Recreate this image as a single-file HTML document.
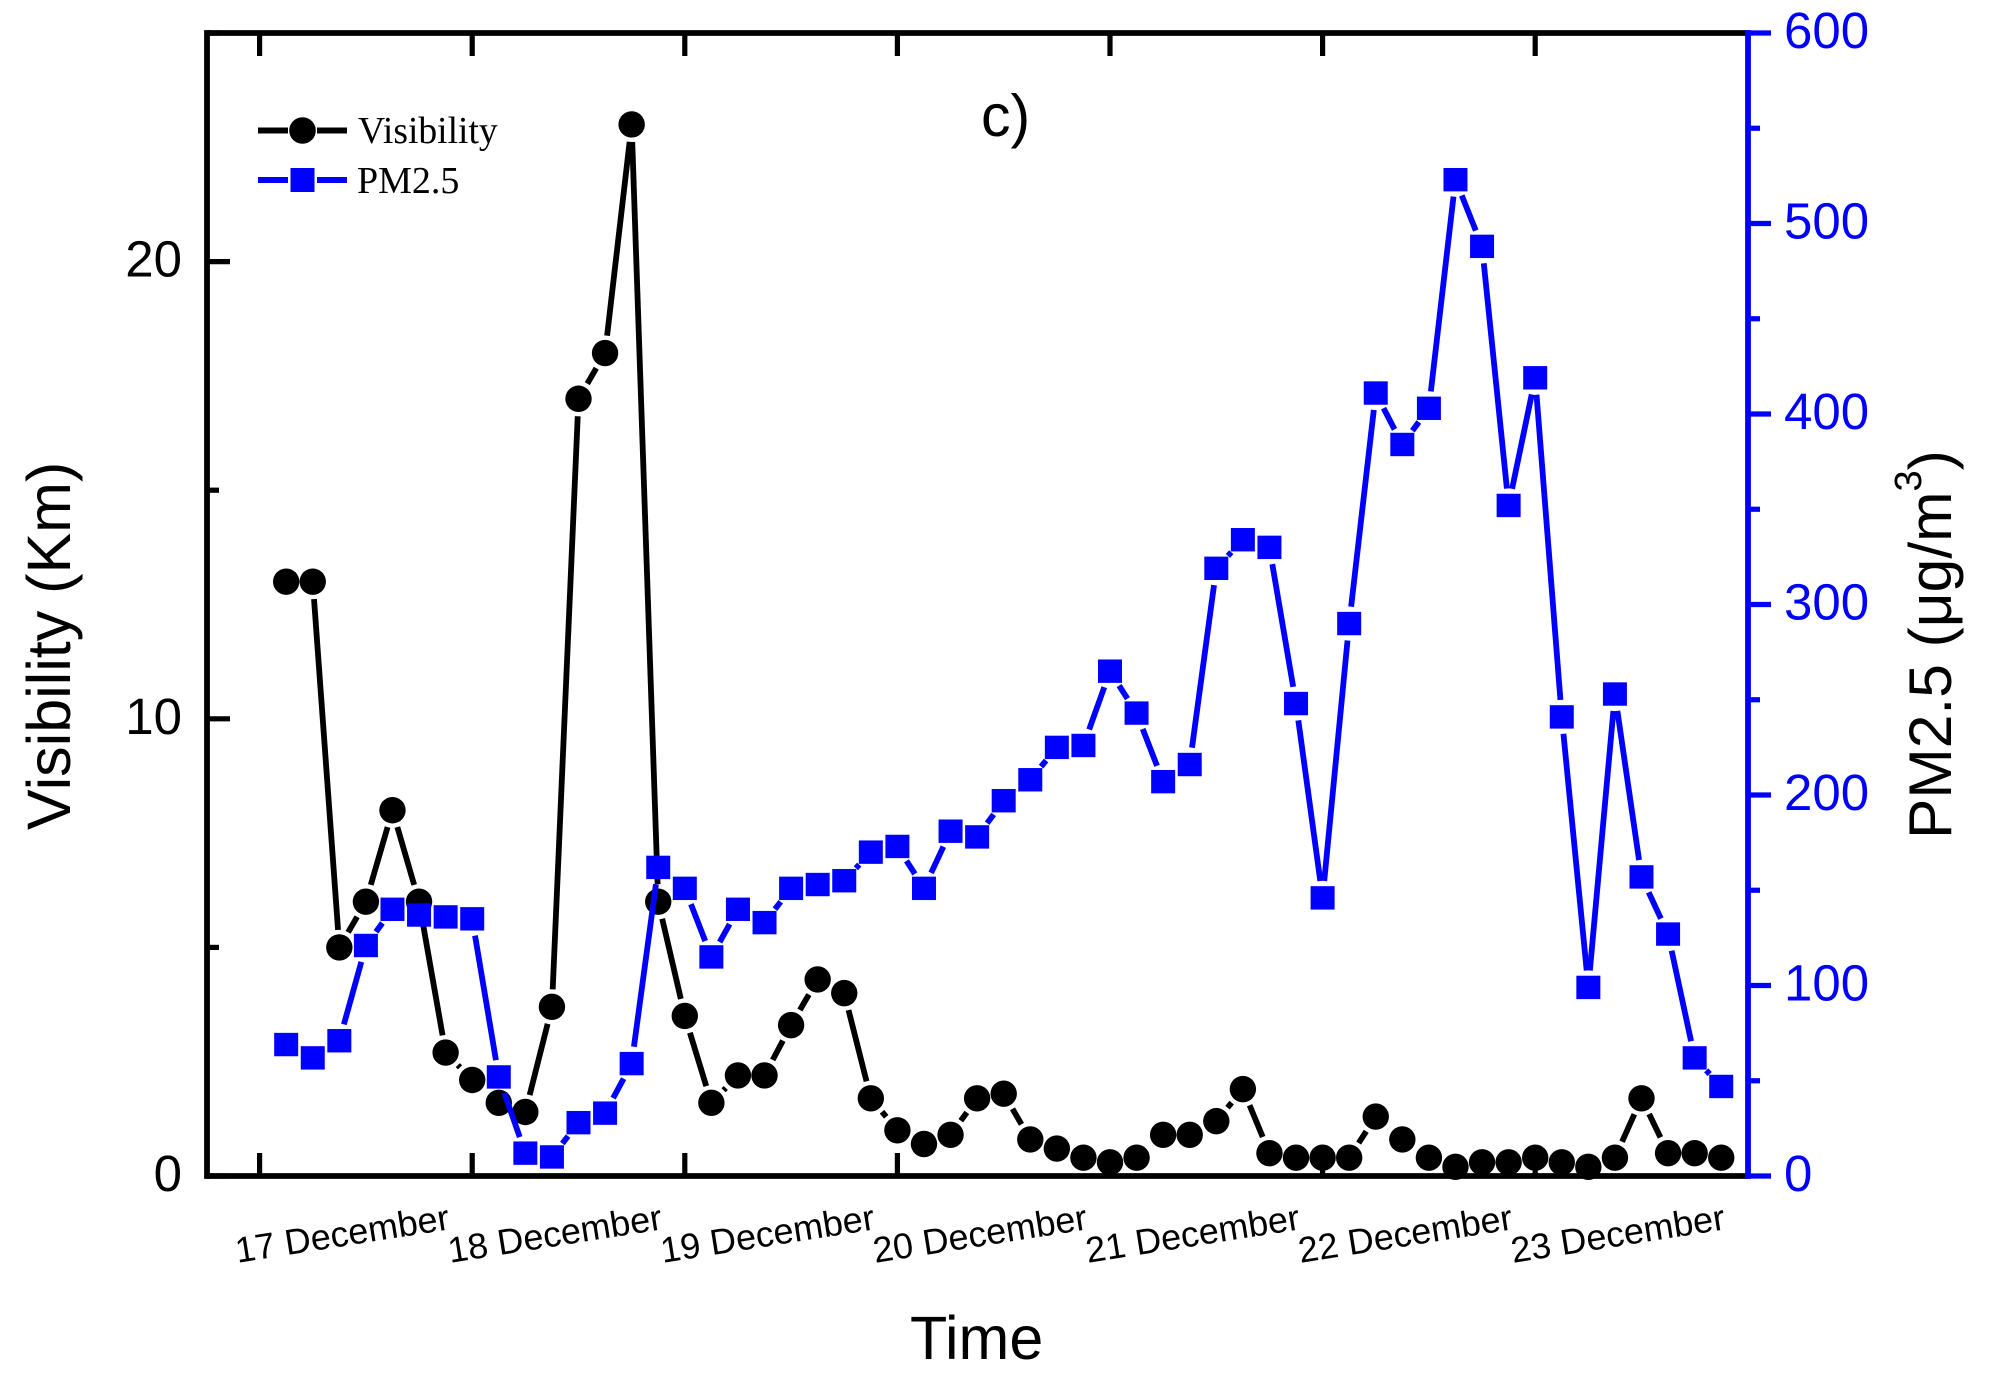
<!DOCTYPE html>
<html lang="en">
<head>
<meta charset="utf-8">
<title>Visibility and PM2.5</title>
<style>
html,body{margin:0;padding:0;background:#fff;}
svg{display:block;}
text{font-family:"Liberation Sans",sans-serif;}
.serif{font-family:"Liberation Serif",serif;}
</style>
</head>
<body>
<svg id="chart" xmlns="http://www.w3.org/2000/svg" width="1996" height="1383" viewBox="0 0 1996 1383">
  <rect x="0" y="0" width="1996" height="1383" fill="#fff"/>
  <g id="series-layer"></g>
  <g id="axes-layer"></g>
  <text x="981" y="136" font-size="59" fill="#000">c)</text>
  <text x="910" y="1359" font-size="61" fill="#000">Time</text>
  <text transform="translate(70,830) rotate(-90)" font-size="61" fill="#000">Visibility (Km)</text>
  <text transform="translate(1951,839) rotate(-90)" font-size="60.5" fill="#000">PM2.5 (μg/m<tspan font-size="38" dy="-30">3</tspan><tspan dy="30">)</tspan></text>
  <g>
    <g>
      <line x1="258" y1="130.5" x2="288" y2="130.5" stroke="#000" stroke-width="6"/>
      <line x1="317" y1="130.5" x2="347" y2="130.5" stroke="#000" stroke-width="6"/>
      <circle cx="302.5" cy="130.5" r="13.3" fill="#000"/>
      <text class="serif" x="358" y="143" font-size="37.6" fill="#000">Visibility</text>
    </g>
    <g>
      <line x1="258" y1="180" x2="288" y2="180" stroke="#00f" stroke-width="6"/>
      <line x1="317" y1="180" x2="347" y2="180" stroke="#00f" stroke-width="6"/>
      <rect x="290.5" y="168" width="24" height="24" fill="#00f"/>
      <text class="serif" x="357" y="193" font-size="38" fill="#000">PM2.5</text>
    </g>
  </g>
</svg>
<script>
// Chart data (index 1 = first sample after the 17 December tick, 8 samples per day)
var sampleIndex = [1,2,3,4,5,6,7,8,9,10,11,12,13,14,15,16,17,18,19,20,21,22,23,24,25,26,27,28,29,30,31,32,33,34,35,36,37,38,39,40,41,42,43,44,45,46,47,48,49,50,51,52,53,54,55];
var visibility = [13,13,5,6,8,6,2.7,2.1,1.6,1.4,3.7,17,18,23,6,3.5,1.6,2.2,2.2,3.3,4.3,4,1.7,1,0.7,0.9,1.7,1.8,0.8,0.6,0.4,0.3,0.4,0.9,0.9,1.2,1.9,0.5,0.4,0.4,0.4,1.3,0.8,0.4,0.2,0.3,0.3,0.4,0.3,0.2,0.4,1.7,0.5,0.5,0.4];
var pm25 = [69,62,71,121,140,137,136,135,52,12,10,28,33,59,162,151,115,140,133,151,153,155,170,173,151,181,178,197,208,225,226,265,243,207,216,319,334,330,248,146,290,411,384,403,523,488,352,419,241,99,253,157,127,62,47];
var dayLabels = ["17 December","18 December","19 December","20 December","21 December","22 December","23 December"];
var dayTicks = [0,8,16,24,32,40,48];
var leftMajorTicks = [0,10,20];
var leftMinorTicks = [5,15,25];
var rightMajorTicks = [0,100,200,300,400,500,600];
var rightMinorTicks = [50,150,250,350,450,550];

var NS = "http://www.w3.org/2000/svg";
var PLOT = {left:207, right:1748, top:33, bottom:1176};
function xScale(t){ return 259.6 + t * 26.575; }
function yLeft(v){ return PLOT.bottom - v * (PLOT.bottom - PLOT.top) / 25; }
function yRight(v){ return PLOT.bottom - v * (PLOT.bottom - PLOT.top) / 600; }

function make(tag, attrs, parent){
  var el = document.createElementNS(NS, tag);
  for (var k in attrs) el.setAttribute(k, attrs[k]);
  parent.appendChild(el);
  return el;
}

var axes = document.getElementById("axes-layer");
var series = document.getElementById("series-layer");
var BLACK = "#000", BLUE = "#00f", AXW = 5.8, TW = 5.2;

// Day ticks on the bottom and top spines, and day labels
dayTicks.forEach(function(t, i){
  var x = xScale(t);
  var b = make("line", {x1:x, x2:x, y1:PLOT.bottom, y2:PLOT.bottom-23, stroke:BLACK, "stroke-width":TW}, axes);
  
  
  var tp = make("line", {x1:x, x2:x, y1:PLOT.top, y2:PLOT.top+23, stroke:BLACK, "stroke-width":TW}, axes);
  
  
  var lab = make("text", {"text-anchor":"middle", "font-size":36, fill:BLACK,
    transform:"translate(" + (x + 84.5) + ",1246) rotate(-9)"}, axes);
  lab.textContent = dayLabels[i];
  
  
});

// Left axis ticks
leftMajorTicks.forEach(function(v){
  var y = yLeft(v);
  var t = make("line", {x1:PLOT.left, x2:PLOT.left+23, y1:y, y2:y, stroke:BLACK, "stroke-width":TW}, axes);
  
  
  var lab = make("text", {x:182, y:y+15, "text-anchor":"end", "font-size":51, fill:BLACK}, axes);
  lab.textContent = String(v);
  
  
});
leftMinorTicks.forEach(function(v){
  var y = yLeft(v);
  var t = make("line", {x1:PLOT.left, x2:PLOT.left+12, y1:y, y2:y, stroke:BLACK, "stroke-width":TW}, axes);
  
  
});

// Spines
var spineLeft = make("line", {x1:PLOT.left, x2:PLOT.left, y1:PLOT.top-2.9, y2:PLOT.bottom+2.9, stroke:BLACK, "stroke-width":AXW}, axes);


var spineTop = make("line", {x1:PLOT.left, x2:PLOT.right, y1:PLOT.top, y2:PLOT.top, stroke:BLACK, "stroke-width":AXW}, axes);


var spineBottom = make("line", {x1:PLOT.left, x2:PLOT.right, y1:PLOT.bottom, y2:PLOT.bottom, stroke:BLACK, "stroke-width":AXW}, axes);


var spineRight = make("line", {x1:PLOT.right, x2:PLOT.right, y1:PLOT.top-2.9, y2:PLOT.bottom+2.9, stroke:BLUE, "stroke-width":AXW}, axes);



// Right axis ticks
rightMajorTicks.forEach(function(v){
  var y = yRight(v);
  var t = make("line", {x1:PLOT.right, x2:PLOT.right+23, y1:y, y2:y, stroke:BLUE, "stroke-width":TW}, axes);
  
  
  var lab = make("text", {x:1784, y:y+15, "font-size":51, fill:BLUE}, axes);
  lab.textContent = String(v);
  
  
});
rightMinorTicks.forEach(function(v){
  var y = yRight(v);
  var t = make("line", {x1:PLOT.right, x2:PLOT.right+12, y1:y, y2:y, stroke:BLUE, "stroke-width":TW}, axes);
  
  
});

// Line segments are broken around each marker
function drawSegments(values, yFn, color, clearance, parent){
  for (var i = 0; i < values.length - 1; i++){
    var x1 = xScale(sampleIndex[i]), y1 = yFn(values[i]);
    var x2 = xScale(sampleIndex[i+1]), y2 = yFn(values[i+1]);
    var dx = x2 - x1, dy = y2 - y1, len = Math.sqrt(dx*dx + dy*dy);
    if (len <= 2 * clearance) continue;
    var ux = dx / len, uy = dy / len;
    var seg = make("line", {x1:x1+ux*clearance, y1:y1+uy*clearance, x2:x2-ux*clearance, y2:y2-uy*clearance,
      stroke:color, "stroke-width":5.8}, parent);
    
    
  }
}

var visGroup = make("g", {}, series);


drawSegments(visibility, yLeft, BLACK, 17.5, visGroup);
visibility.forEach(function(v, i){
  var c = make("circle", {cx:xScale(sampleIndex[i]), cy:yLeft(v), r:13.2, fill:BLACK}, visGroup);
  
  
});

var pmGroup = make("g", {}, series);


drawSegments(pm25, yRight, BLUE, 17, pmGroup);
pm25.forEach(function(v, i){
  var r = make("rect", {x:xScale(sampleIndex[i])-12, y:yRight(v)-11.7, width:24, height:23.4, fill:BLUE}, pmGroup);
  
  
});
</script>
</body>
</html>
